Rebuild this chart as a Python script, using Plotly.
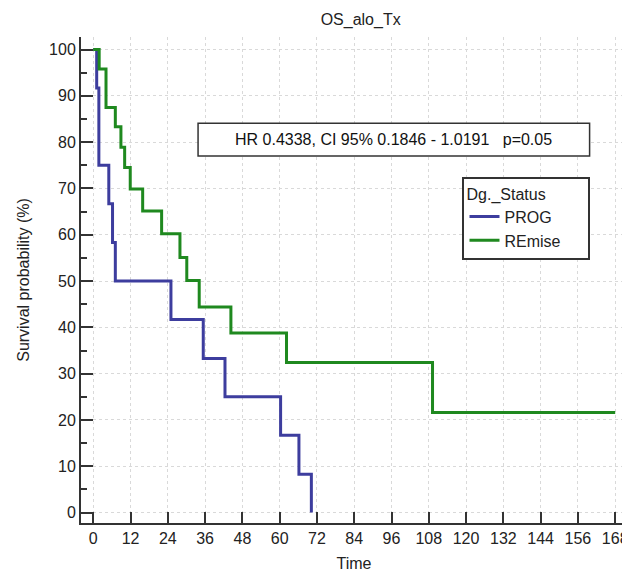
import plotly.graph_objects as go

# PROG (Kaplan-Meier steps)
prog_time = [0, 1.1, 1.8, 5.0, 6.2, 7.1, 25.0, 35.4, 42.4, 60.3, 66.2, 70.2]
prog_surv = [100, 91.7, 75.0, 66.7, 58.3, 50.0, 41.7, 33.3, 25.0, 16.7, 8.3, 0.0]

# REmise (Kaplan-Meier steps)
remise_time = [0, 1.9, 4.1, 7.1, 8.9, 10.1, 11.9, 15.9, 22.0, 27.9, 30.1, 34.1, 44.3, 62.2, 109.2, 168]
remise_surv = [100, 95.8, 87.5, 83.3, 78.9, 74.5, 69.9, 65.1, 60.2, 55.1, 50.1, 44.4, 38.8, 32.4, 21.6, 21.6]

x_ticks = list(range(0, 169, 12))
y_ticks = list(range(0, 101, 10))

FONT = "Liberation Sans, Arial, sans-serif"
BLUE = "#3d3d9e"
GREEN = "#1f891f"
AXIS = "#333333"

fig = go.Figure()
fig.add_trace(go.Scatter(x=prog_time, y=prog_surv, mode="lines", name="PROG",
                         line=dict(color=BLUE, width=3, shape="hv")))
fig.add_trace(go.Scatter(x=remise_time, y=remise_surv, mode="lines", name="REmise",
                         line=dict(color=GREEN, width=3, shape="hv")))

fig.update_layout(
    width=622, height=564,
    margin=dict(l=73, r=3, t=29, b=49, autoexpand=False),
    paper_bgcolor="white", plot_bgcolor="white",
    font=dict(family=FONT, size=16, color="#222222"),
    title=dict(text="OS_alo_Tx", x=0.567, xanchor="center", y=0.979, yanchor="middle",
               font=dict(size=16, family=FONT, color="#222222")),
    showlegend=True,
    legend=dict(
        title=dict(text="Dg._Status" + "&nbsp;" * 9, font=dict(size=16)),
        x=0.6987, y=0.7124, xanchor="left", yanchor="top",
        bordercolor=AXIS, borderwidth=2, bgcolor="white",
        font=dict(size=16, family=FONT), itemwidth=30, tracegroupgap=0,
    ),
)

fig.update_xaxes(
    range=[-3.95, 171.8], tickvals=x_ticks, ticktext=[str(v) for v in x_ticks],
    showline=True, linecolor=AXIS, linewidth=2, automargin=False,
    ticks="inside", ticklen=11, tickwidth=2, tickcolor=AXIS,
    showgrid=True, gridcolor="#d9d9d9", griddash="dot", gridwidth=1,
    zeroline=False, tickfont=dict(size=16),
    title=dict(text="Time", font=dict(size=16)),
)
fig.update_yaxes(
    range=[-2.25, 102.7], tickvals=y_ticks, ticktext=[str(v) for v in y_ticks],
    showline=True, linecolor=AXIS, linewidth=2, automargin=False,
    ticks="inside", ticklen=12, tickwidth=2, tickcolor=AXIS,
    minor=dict(dtick=5, tick0=0, ticks="inside", ticklen=6, tickwidth=2, tickcolor=AXIS, showgrid=False),
    showgrid=True, gridcolor="#d9d9d9", griddash="dot", gridwidth=1,
    zeroline=False, tickfont=dict(size=16),
    title=dict(text="Survival probability (%)", font=dict(size=16)),
)

# HR annotation box
fig.add_shape(type="rect", xref="paper", yref="paper",
              x0=0.2144, x1=0.9315, y0=0.755, y1=0.8223,
              line=dict(color=AXIS, width=1.5), fillcolor="white", layer="above")
fig.add_annotation(xref="paper", yref="paper", x=(0.2144 + 0.9315) / 2, y=(0.755 + 0.8223) / 2,
                   text="HR 0.4338, CI 95% 0.1846 - 1.0191   p=0.05", showarrow=False,
                   font=dict(size=16, family=FONT, color="#111111"),
                   xanchor="center", yanchor="middle")

fig.write_html("out.html")
